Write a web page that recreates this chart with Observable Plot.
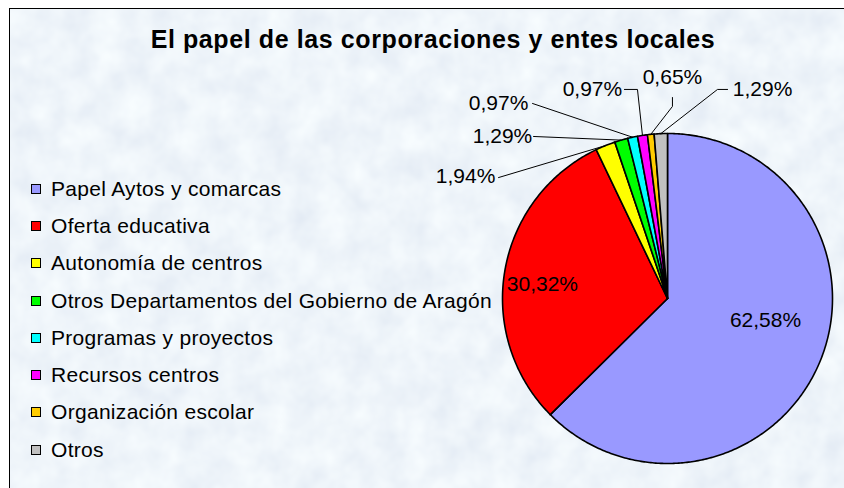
<!DOCTYPE html>
<html>
<head>
<meta charset="utf-8">
<script src="https://cdn.jsdelivr.net/npm/d3@7"></script>
<script src="https://cdn.jsdelivr.net/npm/@observablehq/plot@0.6"></script>
<style>
  html, body { margin: 0; padding: 0; background: #ffffff; }
  #wrap { position: relative; width: 844px; height: 488px; overflow: hidden; font-family: "Liberation Sans", Arial, sans-serif; }
  #bg { position: absolute; left: 9px; top: 8px; width: 900px; height: 600px; background: #dce7f3; border-left: 1.5px solid #000; border-top: 1.5px solid #000; overflow: hidden; }
  #bg svg { position: absolute; left: 0; top: 0; }
  #title { position: absolute; left: 0; width: 866px; top: 25px; text-align: center; font-weight: bold; font-size: 25px; letter-spacing: 0.6px; color: #000; }
  #legend { position: absolute; left: 31px; top: 170px; }
  .item { display: flex; align-items: center; height: 37.3px; font-size: 21px; letter-spacing: 0.3px; color: #000; white-space: nowrap; }
  .sw { width: 8px; height: 8px; border: 1.5px solid #000; margin-right: 10px; }
  #chart { position: absolute; left: 0; top: 0; }
</style>
</head>
<body>
<div id="wrap">
  <div id="bg">
    <svg width="900" height="600">
      <filter id="tex" x="0" y="0" width="100%" height="100%">
        <feTurbulence type="fractalNoise" baseFrequency="0.035" numOctaves="3" seed="4" stitchTiles="stitch"/>
        <feColorMatrix type="matrix" values="0.2 0 0 0 0.76  0.18 0 0 0 0.82  0.11 0 0 0 0.90  0 0 0 0 1"/>
      </filter>
      <rect width="900" height="600" filter="url(#tex)"/>
    </svg>
  </div>
  <div id="title">El papel de las corporaciones y entes locales</div>
  <div id="legend"></div>
  <div id="chart"></div>
</div>
<script>
const categories = [
  "Papel Aytos y comarcas",
  "Oferta educativa",
  "Autonomía de centros",
  "Otros Departamentos del Gobierno de Aragón",
  "Programas y proyectos",
  "Recursos centros",
  "Organización escolar",
  "Otros"
];
const values = [62.58, 30.32, 1.94, 1.29, 0.97, 0.97, 0.65, 1.29];
const colors = ["#9999ff", "#ff0000", "#ffff00", "#00ff00", "#00ffff", "#ff00ff", "#ffcc00", "#c0c0c0"];

// label layout (pie-radius units, centre = 0,0)
const labelAt = [
  [0.594, -0.133], [-0.758, 0.085], [-1.224, 0.739], [-1.0, 0.982],
  [-1.024, 1.182], [-0.455, 1.267], [0.030, 1.339], [0.576, 1.267]
];
const elbows = [
  null, null,
  [[-1.024, 0.733]],
  [[-0.812, 0.982]],
  [[-0.818, 1.182]],
  [[-0.261, 1.267], [-0.182, 1.267]],
  [[0.030, 1.218], [0.030, 1.164]],
  [[0.364, 1.267], [0.303, 1.267]]
];

const total = d3.sum(values);
const fmt = v => v.toFixed(2).replace(".", ",") + "%";

// slice polygons
const slicePts = [];
const mids = [];
let acc = 0;
values.forEach((v, i) => {
  const a0 = acc / total * 2 * Math.PI;
  acc += v;
  const a1 = acc / total * 2 * Math.PI;
  mids.push((a0 + a1) / 2);
  slicePts.push({cat: categories[i], x: 0, y: 0});
  const n = Math.max(2, Math.ceil((a1 - a0) / 0.01));
  for (let k = 0; k <= n; k++) {
    const a = a0 + (a1 - a0) * k / n;
    slicePts.push({cat: categories[i], x: Math.sin(a), y: Math.cos(a)});
  }
  slicePts.push({cat: categories[i], x: 0, y: 0});
});

const texts = values.map((v, i) => ({label: fmt(v), x: labelAt[i][0], y: labelAt[i][1]}));
const leaders = [];
values.forEach((v, i) => {
  if (!elbows[i]) return;
  elbows[i].forEach(p => leaders.push({k: i, x: p[0], y: p[1]}));
  leaders.push({k: i, x: Math.sin(mids[i]), y: Math.cos(mids[i])});
});

const chart = Plot.plot({
  width: 844,
  height: 488,
  margin: 0,
  style: {background: "transparent", overflow: "visible"},
  x: {type: "linear", domain: [-1, 1], range: [502, 832], axis: null},
  y: {type: "linear", domain: [-1, 1], range: [463, 133], axis: null},
  color: {domain: categories, range: colors},
  marks: [
    Plot.line(slicePts, {x: "x", y: "y", z: "cat", fill: "cat", stroke: "#000", strokeWidth: 1.6, strokeLinejoin: "round"}),
    Plot.line(leaders, {x: "x", y: "y", z: "k", stroke: "#000", strokeWidth: 1}),
    Plot.text(texts, {x: "x", y: "y", text: "label", fontSize: 21, fill: "#000", fontFamily: "Liberation Sans, Arial, sans-serif", textAnchor: "middle", lineAnchor: "middle"})
  ]
});
document.getElementById("chart").appendChild(chart);

const legend = document.getElementById("legend");
categories.forEach((c, i) => {
  const row = document.createElement("div");
  row.className = "item";
  const sw = document.createElement("div");
  sw.className = "sw";
  sw.style.background = colors[i];
  row.appendChild(sw);
  row.appendChild(document.createTextNode(c));
  legend.appendChild(row);
});
</script>
</body>
</html>
